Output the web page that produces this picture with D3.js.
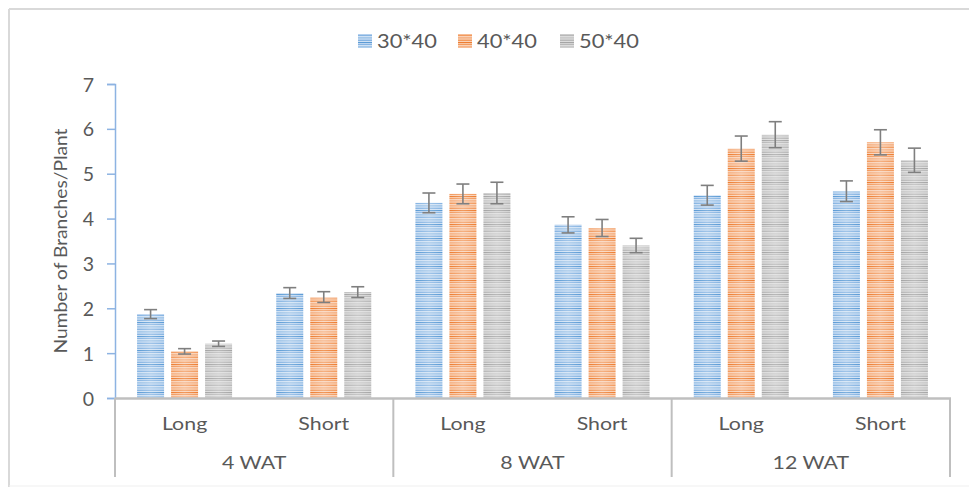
<!DOCTYPE html>
<html><head><meta charset="utf-8">
<script src="https://cdn.jsdelivr.net/npm/d3@7"></script>
<style>
html,body{margin:0;padding:0;background:#fff;}
svg{display:block;}
text{font-family:Lato,"Open Sans",sans-serif;fill:#595959;}
</style></head>
<body>
<svg id="chart" width="969" height="487"></svg>
<script>
// ---- data ----
const groups = ["4 WAT", "8 WAT", "12 WAT"];
const subCats = ["Long", "Short"];
const seriesNames = ["30*40", "40*40", "50*40"];
// values ordered: 4WAT Long, 4WAT Short, 8WAT Long, 8WAT Short, 12WAT Long, 12WAT Short
const s3040 = [1.87, 2.34, 4.35, 3.86, 4.52, 4.61];
const s4040 = [1.04, 2.25, 4.55, 3.79, 5.56, 5.70];
const s5040 = [1.21, 2.36, 4.57, 3.40, 5.87, 5.30];
const e3040 = [0.10, 0.12, 0.22, 0.18, 0.22, 0.23];
const e4040 = [0.06, 0.12, 0.22, 0.19, 0.28, 0.28];
const e5040 = [0.06, 0.12, 0.24, 0.16, 0.29, 0.27];
const yTicks = [0, 1, 2, 3, 4, 5, 6, 7];
const yTitle = "Number of Branches/Plant";

const seriesVals = [s3040, s4040, s5040];
const seriesErr = [e3040, e4040, e5040];
const palette = [
  {dark:"#5b9bd5", mid:"#86b4e2", light:"#b4d0ee", lighter:"#cfe1f4"},
  {dark:"#ed7d31", mid:"#f29a5e", light:"#f7bd95", lighter:"#f9d2b8"},
  {dark:"#a5a5a5", mid:"#b8b8b8", light:"#cdcdcd", lighter:"#dcdcdc"}
];

const svg = d3.select("#chart");
const defs = svg.append("defs");
palette.forEach((p, i) => {
  const pat = defs.append("pattern").attr("id", "pat" + i)
    .attr("patternUnits", "userSpaceOnUse").attr("width", 8).attr("height", 14);
  const rows = [
    [0,1.2,p.dark],[1.2,2,p.light],[2,3,p.mid],[3,4.5,p.lighter],[4.5,5.5,p.dark],
    [5.5,7,p.light],[7,8,p.mid],[8,9.5,p.lighter],[9.5,10.5,p.dark],[10.5,12,p.light],[12,13,p.mid],[13,14,p.lighter]
  ];
  rows.forEach(r => pat.append("rect").attr("x",0).attr("y",r[0]).attr("width",8).attr("height",r[1]-r[0]).attr("fill",r[2]));
});
const grad = defs.append("linearGradient").attr("id","shine").attr("x1","0").attr("x2","1").attr("y1","0").attr("y2","0");
grad.append("stop").attr("offset","0").attr("stop-color","#fff").attr("stop-opacity",0);
grad.append("stop").attr("offset","0.5").attr("stop-color","#fff").attr("stop-opacity",0.22);
grad.append("stop").attr("offset","1").attr("stop-color","#fff").attr("stop-opacity",0);

// border
svg.append("line").attr("x1",9).attr("x2",969).attr("y1",9).attr("y2",9).attr("stroke","#d9d9d9").attr("stroke-width",2);
svg.append("line").attr("x1",9).attr("x2",9).attr("y1",9).attr("y2",487).attr("stroke","#d9d9d9").attr("stroke-width",2);
svg.append("line").attr("x1",9).attr("x2",969).attr("y1",486).attr("y2",486).attr("stroke","#efefef").attr("stroke-width",1);

const x0 = 115, x1 = 950, yBase = 398, yTop = 84;
const catKeys = [];
groups.forEach(g => subCats.forEach(s => catKeys.push(g + "|" + s)));
const xCat = d3.scaleBand().domain(catKeys).range([x0, x1]).padding(0);
const xSer = d3.scaleBand().domain(seriesNames).range([-47.5, 47.5]).paddingInner(0.206).paddingOuter(0);
const xGroup = d3.scaleBand().domain(groups).range([x0, x1]).padding(0);
const y = d3.scaleLinear().domain([0, 7]).range([yBase, yTop]);

// y axis
const yAxis = d3.axisLeft(y).tickValues(yTicks).tickSize(8).tickPadding(13).tickFormat(d3.format("d"));
const ya = svg.append("g").attr("transform", `translate(${x0},0)`).call(yAxis);
ya.select(".domain").attr("stroke", "#8db3e2").attr("stroke-width", 1.5);
ya.selectAll(".tick line").attr("stroke", "#8db3e2").attr("stroke-width", 1.5);
ya.selectAll(".tick text").attr("font-size", 19.5).attr("font-family", "Lato, sans-serif").attr("fill", "#595959").attr("dy", "0.36em");

// y title
svg.append("text").attr("transform", "translate(67,241) rotate(-90) scale(1.1,1)")
  .attr("text-anchor", "middle").attr("font-size", 17.5).attr("fill", "#404040").text(yTitle);

// bars
seriesNames.forEach((sn, si) => {
  const g = svg.append("g");
  const data = catKeys.map((k, i) => ({k, v: seriesVals[si][i], e: seriesErr[si][i]}));
  g.selectAll("rect.bar").data(data).join("rect").attr("class","bar")
    .attr("x", d => xCat(d.k) + xCat.bandwidth()/2 + xSer(sn))
    .attr("y", d => y(d.v)).attr("width", xSer.bandwidth())
    .attr("height", d => y(0) - y(d.v)).attr("fill", `url(#pat${si})`);
  g.selectAll("rect.shine").data(data).join("rect").attr("class","shine")
    .attr("x", d => xCat(d.k) + xCat.bandwidth()/2 + xSer(sn))
    .attr("y", d => y(d.v)).attr("width", xSer.bandwidth())
    .attr("height", d => y(0) - y(d.v)).attr("fill", "url(#shine)");
  // error bars
  const cx = d => xCat(d.k) + xCat.bandwidth()/2 + xSer(sn) + xSer.bandwidth()/2;
  const eb = g.selectAll("g.err").data(data).join("g").attr("class","err")
    .attr("stroke", "#7f7f7f").attr("stroke-width", 1.6);
  eb.append("line").attr("x1", cx).attr("x2", cx).attr("y1", d => y(d.v + d.e)).attr("y2", d => y(d.v - d.e));
  eb.append("line").attr("x1", d => cx(d) - 6.5).attr("x2", d => cx(d) + 6.5).attr("y1", d => y(d.v + d.e)).attr("y2", d => y(d.v + d.e));
  eb.append("line").attr("x1", d => cx(d) - 6.5).attr("x2", d => cx(d) + 6.5).attr("y1", d => y(d.v - d.e)).attr("y2", d => y(d.v - d.e));
});

// x axis (multi-level)
svg.append("line").attr("x1", x0).attr("x2", x1 + 1).attr("y1", yBase + 0.5).attr("y2", yBase + 0.5)
  .attr("stroke", "#bfbfbf").attr("stroke-width", 2.5);
const dividers = groups.map(g => xGroup(g)).concat([x1]);
svg.selectAll("line.div").data(dividers).join("line").attr("class","div")
  .attr("x1", d => d).attr("x2", d => d).attr("y1", yBase).attr("y2", 477)
  .attr("stroke", "#bfbfbf").attr("stroke-width", 2);
svg.selectAll("text.sub").data(catKeys).join("text").attr("class","sub")
  .attr("transform", d => `translate(${xCat(d) + xCat.bandwidth()/2},430) scale(1.22,1)`)
  .attr("text-anchor", "middle").attr("font-size", 17.5).text(d => d.split("|")[1]);
svg.selectAll("text.grp").data(groups).join("text").attr("class","grp")
  .attr("transform", d => `translate(${xGroup(d) + xGroup.bandwidth()/2},469) scale(1.22,1)`)
  .attr("text-anchor", "middle").attr("font-size", 17.5).text(d => d);

// legend
const legX = [358, 458, 560];
seriesNames.forEach((sn, si) => {
  svg.append("rect").attr("x", legX[si]).attr("y", 34).attr("width", 14).attr("height", 14).attr("fill", `url(#pat${si})`);
  svg.append("text").attr("transform", `translate(${legX[si] + 19},47.5) scale(1.15,1)`).attr("font-size", 19).text(sn);
});
</script>
</body></html>
